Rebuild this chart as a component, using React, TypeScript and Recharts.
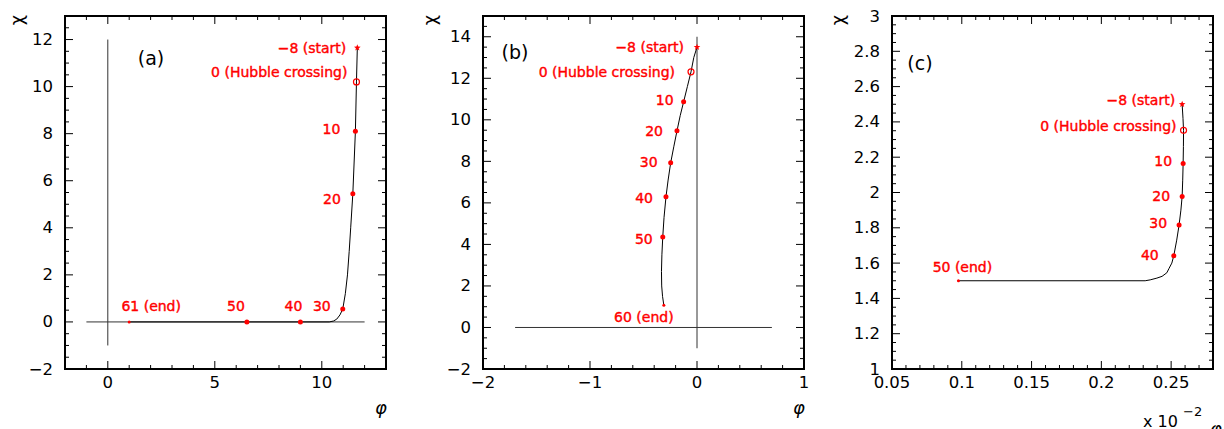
import React from "react";
import { ScatterChart, Scatter, XAxis, YAxis, ReferenceLine, ReferenceArea } from "recharts";

const FONT = "'DejaVu Sans', sans-serif";
const RED = "#ff0000";
const W = 408;
const H = 429;
const TOP = 16;
const XH = 60;

// ---- panel (a) ----
const aCurvePhi = [11.66, 11.62, 11.57, 11.45, 11.35, 11.28, 11.2, 11.1, 10.98, 10.85, 10.7, 10.55, 10.35, 9.0, 6.5, 1.0];
const aCurveChi = [11.65, 10.2, 8.1, 5.45, 4.0, 3.0, 2.0, 1.2, 0.55, 0.3, 0.12, 0.04, 0.0, 0.0, 0.0, 0.0];
const aMarkPhi = [11.66, 11.62, 11.57, 11.45, 10.98, 9.0, 6.5, 1.0];
const aMarkChi = [11.65, 10.2, 8.1, 5.45, 0.55, 0, 0, 0];
const aMarkText = ["−8 (start)", "0 (Hubble crossing)", "10", "20", "30", "40", "50", "61 (end)"];
const aMarkKind = ["star", "open", "dot", "dot", "dot", "dot", "dot", "end"];
const aXMajor = [0, 5, 10];
const aYMajor = [-2, 0, 2, 4, 6, 8, 10, 12];
const aZeroH = [-1, 12];
const aZeroV = [-1, 12];

// ---- panel (b) ----
const bCurvePhi = [0, -0.03, -0.056, -0.09, -0.125, -0.157, -0.187, -0.217, -0.246, -0.27, -0.29, -0.308, -0.32, -0.328, -0.332, -0.33, -0.322, -0.31];
const bCurveChi = [13.5, 13.0, 12.31, 11.6, 10.87, 10.2, 9.47, 8.7, 7.93, 7.1, 6.29, 5.3, 4.36, 3.5, 2.7, 2.0, 1.5, 1.07];
const bMarkPhi = [0, -0.056, -0.125, -0.187, -0.246, -0.29, -0.32, -0.31];
const bMarkChi = [13.5, 12.31, 10.87, 9.47, 7.93, 6.29, 4.36, 1.07];
const bMarkText = ["−8 (start)", "0 (Hubble crossing)", "10", "20", "30", "40", "50", "60 (end)"];
const bMarkKind = ["star", "open", "dot", "dot", "dot", "dot", "dot", "end"];
const bXMajor = [-2, -1, 0, 1];
const bYMajor = [-2, 0, 2, 4, 6, 8, 10, 12, 14];
const bZeroH = [-1.7, 0.7];
const bZeroV = [-1, 14];

// ---- panel (c) ----
const cCurvePhi = [0.2579, 0.2585, 0.2589, 0.2588, 0.2586, 0.2583, 0.2579, 0.257, 0.2557, 0.254, 0.2519, 0.2505, 0.2485, 0.2469, 0.2435, 0.2398, 0.235, 0.2314, 0.0976];
const cCurveChi = [2.5, 2.42, 2.352, 2.26, 2.165, 2.07, 1.978, 1.9, 1.816, 1.73, 1.642, 1.6, 1.57, 1.545, 1.525, 1.515, 1.505, 1.5, 1.5];
const cMarkPhi = [0.2579, 0.2589, 0.2586, 0.2579, 0.2557, 0.2519, 0.0976];
const cMarkChi = [2.5, 2.352, 2.165, 1.978, 1.816, 1.642, 1.5];
const cMarkText = ["−8 (start)", "0 (Hubble crossing)", "10", "20", "30", "40", "50 (end)"];
const cMarkKind = ["star", "open", "dot", "dot", "dot", "dot", "end"];
const cXMajor = [0.05, 0.1, 0.15, 0.2, 0.25];
const cYMajor = [1, 1.2, 1.4, 1.6, 1.8, 2, 2.2, 2.4, 2.6, 2.8, 3];

// label placement: [anchor, dx, dy] in pixels from the marker
type Place = ["start" | "middle" | "end", number, number];
const aPlace: Place[] = [["end", -11, 0], ["end", -9, -10], ["end", -15, -2], ["end", -12, 5], ["end", -12, -3], ["middle", -7, -16], ["middle", -11, -16], ["middle", 22, -16]];
const bPlace: Place[] = [["end", -13, 0], ["end", -16, 0], ["end", -10, -2], ["end", -14, 0], ["end", -13, -1], ["end", -13, 1], ["end", -10, 2], ["middle", -20, 12]];
const cPlace: Place[] = [["end", -7, -4], ["end", -7, -4], ["end", -11, -2], ["end", -12, 0], ["end", -12, -2], ["end", -15, -1], ["middle", 4, -14]];

type PanelCfg = {
    left: number;
    yw: number;
    mr: number;
    xDomain: [number, number];
    yDomain: [number, number];
    xStep: number;
    yStep: number;
    xMajor: number[];
    yMajor: number[];
    curvePhi: number[];
    curveChi: number[];
    markPhi: number[];
    markChi: number[];
    markText: string[];
    markKind: string[];
    place: Place[];
    zeroH?: number[];
    zeroV?: number[];
    tag: string;
    tagX: number;
    tagY: number;
    chiX: number;
    scale?: boolean;
};

const panels: PanelCfg[] = [
    {
        left: 0, yw: 65, mr: 22, xDomain: [-2, 13], yDomain: [-2, 13], xStep: 1, yStep: 0.5,
        xMajor: aXMajor, yMajor: aYMajor, curvePhi: aCurvePhi, curveChi: aCurveChi,
        markPhi: aMarkPhi, markChi: aMarkChi, markText: aMarkText, markKind: aMarkKind, place: aPlace,
        zeroH: aZeroH, zeroV: aZeroV, tag: "(a)", tagX: 86, tagY: 42, chiX: 16.5,
    },
    {
        left: 408, yw: 75, mr: 12, xDomain: [-2, 1], yDomain: [-2, 15], xStep: 0.2, yStep: 0.5,
        xMajor: bXMajor, yMajor: bYMajor, curvePhi: bCurvePhi, curveChi: bCurveChi,
        markPhi: bMarkPhi, markChi: bMarkChi, markText: bMarkText, markKind: bMarkKind, place: bPlace,
        zeroH: bZeroH, zeroV: bZeroV, tag: "(b)", tagX: 32, tagY: 36, chiX: 21,
    },
    {
        left: 816, yw: 76, mr: 11, xDomain: [0.05, 0.28], yDomain: [1, 3], xStep: 0.01, yStep: 0.05,
        xMajor: cXMajor, yMajor: cYMajor, curvePhi: cCurvePhi, curveChi: cCurveChi,
        markPhi: cMarkPhi, markChi: cMarkChi, markText: cMarkText, markKind: cMarkKind, place: cPlace,
        tag: "(c)", tagX: 28, tagY: 47, chiX: 21.5, scale: true,
    },
];

function ticksFrom(min: number, max: number, step: number) {
    const n = Math.round((max - min) / step);
    return Array.from({ length: n + 1 }, (_, i) => +(min + i * step).toFixed(6));
}

const isMajor = (v: number, majors: number[], step: number) => majors.some((m) => Math.abs(m - v) < step * 1e-3);
const fmt = (v: number) => (v < 0 ? "−" + Math.abs(v) : String(v));

function starPath(cx: number, cy: number, r: number) {
    let d = "";
    for (let k = 0; k < 10; k++) {
        const rr = k % 2 === 0 ? r : r * 0.42;
        const a = -Math.PI / 2 + (k * Math.PI) / 5;
        d += (k === 0 ? "M" : "L") + (cx + rr * Math.cos(a)).toFixed(2) + "," + (cy + rr * Math.sin(a)).toFixed(2);
    }
    return d + "Z";
}

function PanelChart({ p }: { p: PanelCfg }) {
    const plotW = W - p.yw - p.mr;
    const plotH = H - TOP - XH;
    const xTicks = ticksFrom(p.xDomain[0], p.xDomain[1], p.xStep);
    const yTicks = ticksFrom(p.yDomain[0], p.yDomain[1], p.yStep);
    const curve = p.curvePhi.map((phi, i) => ({ phi, chi: p.curveChi[i] }));
    const marks = p.markPhi.map((phi, i) => ({ phi, chi: p.markChi[i], text: p.markText[i], kind: p.markKind[i], i }));

    const XTick = (props: any) => {
        const { x, y, payload } = props;
        const major = isMajor(payload.value, p.xMajor, p.xStep);
        const len = major ? 8 : 4;
        return (
            <g>
                <line x1={x} y1={y} x2={x} y2={y - len} stroke="#000" />
                <line x1={x} y1={y - plotH} x2={x} y2={y - plotH + len} stroke="#000" />
                {major && (
                    <text x={x} y={y + 13} textAnchor="middle" dominantBaseline="central" fontFamily={FONT} fontSize={16.5} fill="#000">
                        {fmt(payload.value)}
                    </text>
                )}
            </g>
        );
    };

    const YTick = (props: any) => {
        const { x, y, payload } = props;
        const major = isMajor(payload.value, p.yMajor, p.yStep);
        const len = major ? 8 : 4;
        return (
            <g>
                <line x1={x} y1={y} x2={x + len} y2={y} stroke="#000" />
                <line x1={x + plotW} y1={y} x2={x + plotW - len} y2={y} stroke="#000" />
                {major && (
                    <text x={x - 12} y={y} textAnchor="end" dominantBaseline="central" fontFamily={FONT} fontSize={16.5} fill="#000">
                        {fmt(payload.value)}
                    </text>
                )}
            </g>
        );
    };

    const xTitle = (props: any) => {
        const vb = props.viewBox;
        if (p.scale) {
            return (
                <g fontFamily={FONT} fill="#000">
                    <text x={vb.x + vb.width - 70} y={vb.y + 58} fontSize={16}>x 10</text>
                    <text x={vb.x + vb.width - 30} y={vb.y + 47} fontSize={13}>−2</text>
                    <text x={vb.x + vb.width + 3} y={vb.y + 66} fontSize={18} fontStyle="italic" textAnchor="middle">φ</text>
                </g>
            );
        }
        return (
            <text x={vb.x + vb.width - 5} y={vb.y + 45} fontFamily={FONT} fontSize={18} fontStyle="italic" textAnchor="middle" fill="#000">
                φ
            </text>
        );
    };

    const yTitle = (props: any) => {
        const vb = props.viewBox;
        const cx = p.chiX;
        const cy = vb.y + 4;
        return (
            <text x={cx} y={cy} transform={`rotate(-90 ${cx} ${cy})`} fontFamily={FONT} fontSize={18} textAnchor="middle" dominantBaseline="central" fill="#000">
                χ
            </text>
        );
    };

    const tagLabel = (props: any) => {
        const vb = props.viewBox;
        return (
            <text x={vb.x + p.tagX} y={vb.y + p.tagY} fontFamily={FONT} fontSize={19} textAnchor="middle" dominantBaseline="central" fill="#000">
                {p.tag}
            </text>
        );
    };

    const Marker = (props: any) => {
        const { cx, cy, payload } = props;
        const [anchor, dx, dy] = p.place[payload.i];
        let mark: React.ReactNode;
        if (payload.kind === "star") mark = <path d={starPath(cx, cy, 3.5)} fill={RED} />;
        else if (payload.kind === "open") mark = <circle cx={cx} cy={cy} r={3} fill="none" stroke={RED} strokeWidth={1.2} />;
        else if (payload.kind === "end") mark = <circle cx={cx} cy={cy} r={1.5} fill={RED} />;
        else mark = <circle cx={cx} cy={cy} r={2.5} fill={RED} />;
        return (
            <g>
                {mark}
                <text
                    x={cx + dx}
                    y={cy + dy}
                    textAnchor={anchor}
                    dominantBaseline="central"
                    fontFamily={FONT}
                    fontSize={14}
                    fill={RED}
                    stroke={RED}
                    strokeWidth={0.4}
                >
                    {payload.text}
                </text>
            </g>
        );
    };

    return (
        <div style={{ position: "absolute", left: p.left, top: 0 }}>
            <ScatterChart width={W} height={H} margin={{ top: TOP, right: p.mr, bottom: 0, left: 0 }}>
                <XAxis
                    type="number"
                    dataKey="phi"
                    domain={p.xDomain}
                    ticks={xTicks}
                    interval={0}
                    allowDataOverflow
                    axisLine={false}
                    tickLine={false}
                    tickSize={0}
                    tickMargin={0}
                    height={XH}
                    tick={XTick}
                    label={xTitle}
                />
                <YAxis
                    type="number"
                    dataKey="chi"
                    domain={p.yDomain}
                    ticks={yTicks}
                    interval={0}
                    allowDataOverflow
                    axisLine={false}
                    tickLine={false}
                    tickSize={0}
                    tickMargin={0}
                    width={p.yw}
                    tick={YTick}
                    label={yTitle}
                />
                <ReferenceArea
                    x1={p.xDomain[0]}
                    x2={p.xDomain[1]}
                    y1={p.yDomain[0]}
                    y2={p.yDomain[1]}
                    fill="none"
                    stroke="#000"
                    strokeWidth={2}
                    label={tagLabel}
                />
                {p.zeroH && (
                    <ReferenceLine segment={[{ x: p.zeroH[0], y: 0 }, { x: p.zeroH[1], y: 0 }]} stroke="#333" strokeWidth={1} />
                )}
                {p.zeroV && (
                    <ReferenceLine segment={[{ x: 0, y: p.zeroV[0] }, { x: 0, y: p.zeroV[1] }]} stroke="#333" strokeWidth={1} />
                )}
                <Scatter data={curve} line={{ stroke: "#000", strokeWidth: 1 }} shape={() => <g />} isAnimationActive={false} />
                <Scatter data={marks} shape={Marker} isAnimationActive={false} />
            </ScatterChart>
        </div>
    );
}

export default function App() {
    return (
        <div style={{ position: "absolute", left: 0, top: 0, width: 1224, height: 429, background: "#fff" }}>
            {panels.map((p) => (
                <PanelChart key={p.tag} p={p} />
            ))}
        </div>
    );
}
